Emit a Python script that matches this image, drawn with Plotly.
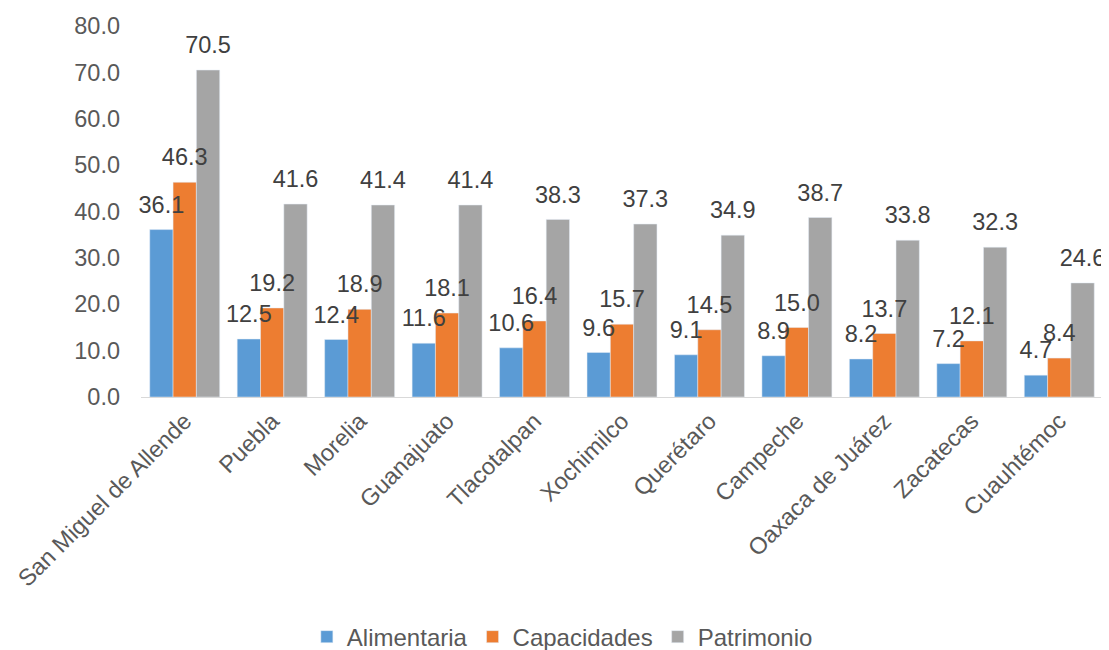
import plotly.graph_objects as go

categories = ["San Miguel de Allende", "Puebla", "Morelia", "Guanajuato", "Tlacotalpan",
              "Xochimilco", "Querétaro", "Campeche", "Oaxaca de Juárez", "Zacatecas", "Cuauhtémoc"]
alimentaria = [36.1, 12.5, 12.4, 11.6, 10.6, 9.6, 9.1, 8.9, 8.2, 7.2, 4.7]
capacidades = [46.3, 19.2, 18.9, 18.1, 16.4, 15.7, 14.5, 15.0, 13.7, 12.1, 8.4]
patrimonio = [70.5, 41.6, 41.4, 41.4, 38.3, 37.3, 34.9, 38.7, 33.8, 32.3, 24.6]
y_ticks = [0, 10, 20, 30, 40, 50, 60, 70, 80]

series = [("Alimentaria", alimentaria, "#5B9BD5"),
          ("Capacidades", capacidades, "#ED7D31"),
          ("Patrimonio", patrimonio, "#A5A5A5")]

FONT = "Liberation Sans, Arial"

fig = go.Figure()
for i, (name, vals, color) in enumerate(series):
    fig.add_trace(go.Bar(
        x=categories, y=vals, name=name, marker_color=color,
        offsetgroup=str(i), cliponaxis=False,
    ))
for i, (name, vals, color) in enumerate(series):
    fig.add_trace(go.Scatter(
        x=categories, y=vals, mode="markers+text", name=name + " labels",
        offsetgroup=str(i), showlegend=False, hoverinfo="skip",
        marker=dict(size=16, opacity=0, color=color),
        text=[f"{v:.1f}" for v in vals], textposition="top center",
        textfont=dict(size=23.5, color="#404040", family=FONT),
        cliponaxis=False,
    ))

fig.update_layout(
    width=1101, height=642,
    barmode="group", bargap=0.2, bargroupgap=0,
    scattermode="group", scattergap=0.2,
    plot_bgcolor="white", paper_bgcolor="white",
    margin=dict(l=133, r=6, t=18, b=253, autoexpand=False),
    font=dict(family=FONT, size=23.5, color="#595959"),
    showlegend=True,
    legend=dict(orientation="h", x=0.438, xanchor="center", y=-0.647, yanchor="middle",
                font=dict(size=24, color="#595959", family=FONT), itemwidth=30,
                traceorder="normal"),
)
fig.update_xaxes(tickangle=-45, showline=True, linecolor="#D9D9D9", linewidth=1,
                 ticks="", automargin=False, tickfont=dict(size=23.5, color="#595959"))
fig.update_yaxes(range=[0, 80], tickvals=y_ticks, tickformat=".1f", showgrid=False,
                 showline=False, zeroline=False, ticks="", automargin=False,
                 ticklabelstandoff=20, tickfont=dict(size=23.5, color="#595959"))

fig.write_html("out.html")
